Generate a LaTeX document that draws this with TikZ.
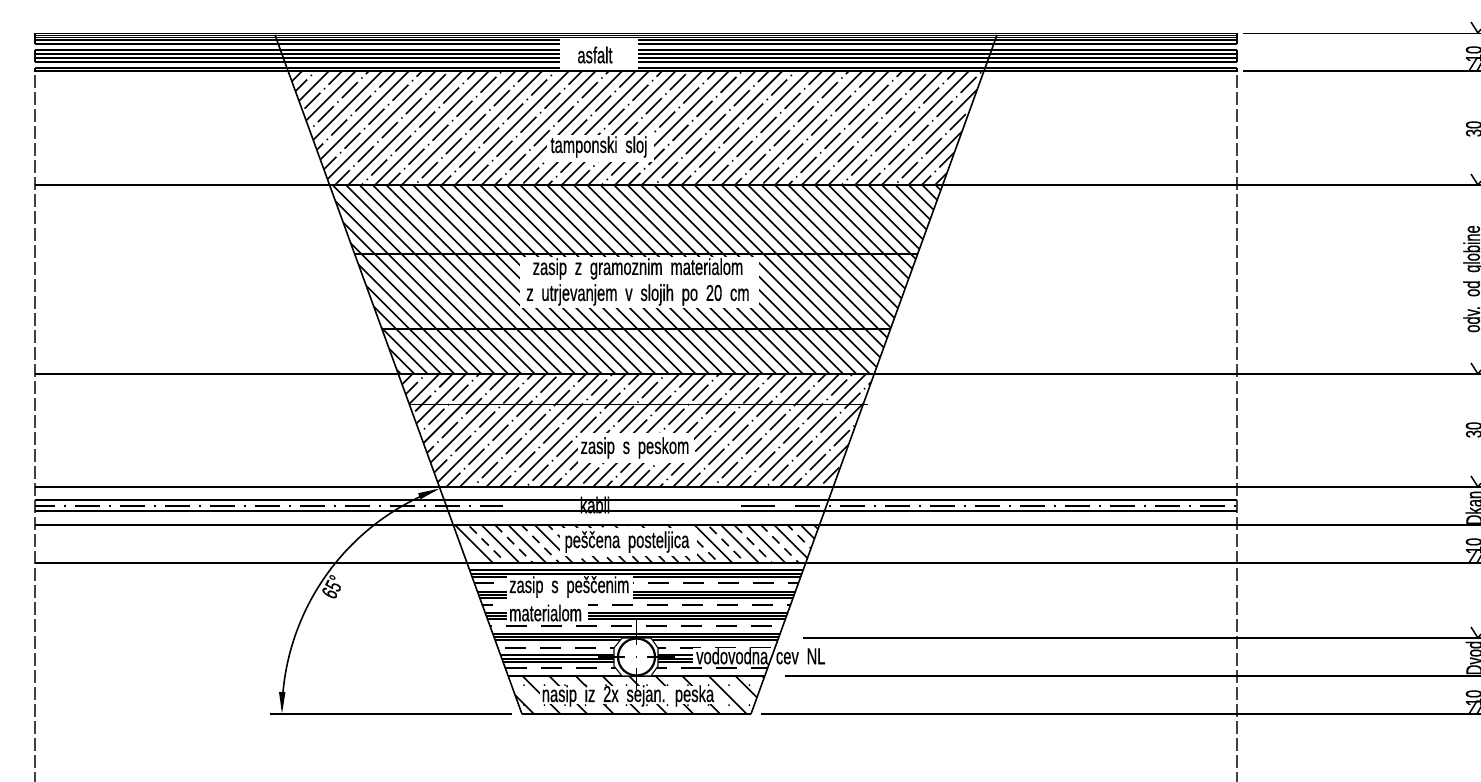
\documentclass[tikz,border=0pt]{standalone}
\usepackage{fontspec}
\setmainfont[FakeStretch=0.64,WordSpace=1.9,FakeBold=0.4]{Liberation Sans}
\usetikzlibrary{arrows.meta}
\tikzset{
  mainline/.style={line width=1.9pt,black},
  thinline/.style={line width=1.6pt,black},
  bandline/.style={line width=1.3pt,black},
  hatchline/.style={line width=1.6pt,black},
  edgeline/.style={line width=1.6pt,black},
  borderline/.style={line width=1.6pt,black!75,dash pattern=on 13pt off 4pt},
  ddot/.style={hatchline,dash pattern=on 22.44pt off 5pt on 1.5pt off 5pt},
  lbl/.style={inner sep=0pt,font=\fontsize{23}{26}\selectfont,text=black},
  blank/.style={fill=white,draw=none},
  tick/.style={line width=1.5pt,black}
}
\newcommand{\slashlayer}[5]{% clip, cstart, n, dstart, dend
  \begin{scope}
    \clip #1;
    \foreach \k in {0,...,#3}{
      \pgfmathsetmacro{\cs}{#2+26.67*\k}
      \pgfmathsetmacro{\ct}{\cs+13.33}
      \draw[ddot] ({(\cs+#4)/2},{(\cs-#4)/2}) -- ({(\cs+#5)/2},{(\cs-#5)/2});
      \draw[hatchline] ({(\ct+#4)/2},{(\ct-#4)/2}) -- ({(\ct+#5)/2},{(\ct-#5)/2});
    }
  \end{scope}}
\begin{document}
\begin{tikzpicture}[x=1pt,y=-1pt]
\useasboundingbox (0,0) rectangle (1481,782);
\clip (0,0) rectangle (1481,782);
\fill[white] (0,0) rectangle (1481,782);

% layer hatches
\slashlayer{(288.5,72) -- (983.6,72) -- (942.7,185) -- (329.6,185) -- cycle}{333.3}{33}{100}{1000}
\slashlayer{(398.3,374) -- (874.2,374) -- (833.2,487) -- (439.4,487) -- cycle}{746.6}{22}{-92}{620}

% gravel
\begin{scope}
  \clip (329.6,185) -- (942.7,185) -- (874.2,374) -- (398.3,374) -- cycle;
  \foreach \k in {0,...,60}{
    \pgfmathsetmacro{\e}{-40+13.4*\k}
    \draw[hatchline] ({(500+\e)/2},{(500-\e)/2}) -- ({(1400+\e)/2},{(1400-\e)/2});
  }
\end{scope}

% sandy bedding
\begin{scope}
  \clip (453.3,525) -- (819.5,525) -- (805.7,563) -- (467.1,563) -- cycle;
  \foreach \k in {0,...,14}{
    \pgfmathsetmacro{\e}{-70+26.6*\k}
    \pgfmathsetmacro{\f}{\e+13.3}
    \draw[hatchline] ({(900+\e)/2},{(900-\e)/2}) -- ({(1450+\e)/2},{(1450-\e)/2});
    \draw[hatchline,dash pattern=on 10pt off 7pt] ({(900+\f)/2},{(900-\f)/2}) -- ({(1450+\f)/2},{(1450-\f)/2});
  }
\end{scope}

% horizontal hatch
\begin{scope}
  \clip (467.1,563) -- (805.7,563) -- (764.8,676) -- (508.2,676) -- cycle;
  \foreach \yy in {570,574,577,592,595,598,613,616,619,634,637,640,655,659,662}{
    \draw[bandline] (460,\yy) -- (810,\yy);
  }
  \foreach \yy/\xx in {583/438,605/437,626/436,648/435,668/436}{
    \draw[hatchline,dash pattern=on 21pt off 14pt] (\xx,\yy) -- (810,\yy);
  }
\end{scope}

% fine sand
\begin{scope}
  \clip (508.2,676) -- (764.8,676) -- (751,714) -- (522,714) -- cycle;
  \foreach \k in {0,...,12}{
    \pgfmathsetmacro{\e}{-180+26.6*\k}
    \draw[hatchline] ({(1100+\e)/2},{(1100-\e)/2}) -- ({(1500+\e)/2},{(1500-\e)/2});
  }
  \foreach \i in {0,...,13}{
    \foreach \j in {0,1}{
      \fill (524+20.5*\i,685+20*\j) circle (1pt);
    }
  }
\end{scope}

% white label backgrounds
\fill[blank] (547,135) rectangle (654,162);
\fill[blank] (520,257) rectangle (759,308);
\fill[blank] (578,433) rectangle (694,463);
\fill[blank] (560,528) rectangle (697,556);
\fill[blank] (507,576) rectangle (633,602);
\fill[blank] (507,603) rectangle (588,623);
\fill[blank] (693,648) rectangle (775,667);
\fill[blank] (540,686) rectangle (718,704);

% asphalt band
\foreach \yy in {33.5,35.5,37.5,71}{
  \draw[bandline] (35,\yy) -- (1237,\yy);
}
\foreach \yy in {40,44,50,54,58,62,68}{
  \draw[bandline] (35,\yy) -- (560,\yy);
  \draw[bandline] (638,\yy) -- (1237,\yy);
}
\foreach \xx in {35,1237}{
  \draw[thinline] (\xx,33) -- (\xx,44);
  \draw[thinline] (\xx,50) -- (\xx,62);
  \draw[thinline] (\xx,68) -- (\xx,72);
  \draw[thinline] (\xx,500) -- (\xx,505);
  \draw[thinline] (\xx,508) -- (\xx,511);
}

% dashed border lines
\draw[borderline] (35,75) -- (35,782);
\draw[borderline] (1237,75) -- (1237,782);

% level lines
\draw[mainline] (1243,33.5) -- (1481,33.5);
\draw[mainline] (1243,71) -- (1481,71);
\foreach \yy in {185,374,487,525,563}{
  \draw[mainline] (35,\yy) -- (1481,\yy);
}
\draw[mainline] (803,638) -- (1481,638);
\draw[mainline] (785,676) -- (1481,676);
\draw[mainline] (270,714) -- (512,714);
\draw[mainline] (761,714) -- (1481,714);
\draw[mainline] (522,714) -- (751,714);
\draw[mainline] (508.2,676) -- (764.8,676);
% inner layer lines
\draw[thinline] (354.7,254) -- (917.7,254);
\draw[thinline] (382,329) -- (890.5,329);
\draw[thinline] (409,404.5) -- (868,404.5);
% cable zone
\draw[thinline] (35,500) -- (1237,500);
\draw[thinline] (35,511) -- (1237,511);
\draw[thinline,dash pattern=on 25pt off 9pt on 2pt off 9pt,dash phase=5pt] (35,506) -- (503,506);
\draw[thinline] (741,506) -- (775,506);
\draw[thinline,dash pattern=on 25pt off 9pt on 2pt off 9pt,dash phase=36pt] (786,506) -- (1237,506);

% trench sides
\draw[edgeline] (275,35) -- (522,714);
\draw[edgeline] (997,35) -- (751,714);

% pipe
\draw[fill=white,line width=1.1pt] (614,648) -- (622,638) -- (651,638) -- (658,648) -- (658,666) -- (651,676) -- (622,676) -- (614,666) -- cycle;
\draw[line width=2.2pt,fill=white] (636.5,657) circle (18.5pt);
\draw[thinline] (636.5,620) -- (636.5,645);
\draw[thinline] (636.5,655.8) -- (636.5,658.2);
\draw[thinline] (636.5,668) -- (636.5,690);
\draw[thinline] (598,657) -- (625,657);
\draw[thinline] (647,657) -- (675,657);

% angle arc
\draw[line width=1.6pt,{Stealth[length=22pt,width=6pt,inset=0pt]}-{Stealth[length=22pt,width=6pt,inset=0pt]}]
  plot[domain=180:110,samples=50,smooth] ({522+240*cos(\x)},{714-240*sin(\x)});

% dimension ticks at the right
\foreach \yy in {33,185,374,487,638}{
  \draw[tick] (1471,\yy-11) -- (1478,\yy) -- (1481,\yy-4);
}
\foreach \yy in {71,563,714}{
  \draw[tick] (1469,\yy) -- (1477,\yy-13) -- (1482,\yy-13);
  \draw[tick] (1477,\yy) -- (1482,\yy-9);
}

% texts
\node[lbl] (asfalt) at (595,55) {asfalt};
\node[lbl] (tampon) at (599,147) {tamponski sloj};
\node[lbl] (gram1) at (638,269) {zasip z gramoznim materialom};
\node[lbl] (gram2) at (638,295) {z utrjevanjem v slojih po 20 cm};
\node[lbl] (pesek) at (635,448) {zasip s peskom};
\node[lbl] (kabli) at (595,505) {kabli};
\node[lbl] (postelj) at (627,542) {peščena posteljica};
\node[lbl,anchor=west] (pesc1) at (509,587) {zasip s peščenim};
\node[lbl,anchor=west] (pesc2) at (509,613) {materialom};
\node[lbl,anchor=west] (cev) at (696,656) {vodovodna cev NL};
\node[lbl] (nasip) at (628,696) {nasip iz 2x sejan. peska};
\node[lbl,rotate=62] (kot) at (333,587) {65°};
\node[lbl,rotate=90] (d1) at (1474,54) {10};
\node[lbl,rotate=90] (d2) at (1474,129) {30};
\node[lbl,rotate=90] (d3) at (1474,279) {odv. od globine};
\node[lbl,rotate=90] (d4) at (1474,430) {30};
\node[lbl,rotate=90] (d5) at (1474,508) {Dkan};
\node[lbl,rotate=90] (d6) at (1474,546) {10};
\node[lbl,rotate=90] (d7) at (1474,658) {Dvod};
\node[lbl,rotate=90] (d8) at (1474,698) {10};
\end{tikzpicture}
\end{document}
